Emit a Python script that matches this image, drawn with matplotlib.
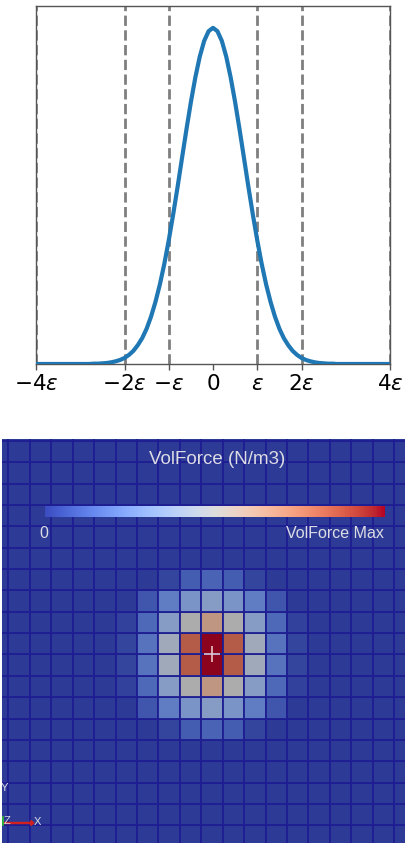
import numpy as np
import matplotlib
matplotlib.use("Agg")
import matplotlib.pyplot as plt
from matplotlib.colors import ListedColormap, Normalize
from matplotlib.cm import ScalarMappable

# ---------------- data: top panel (kernel profile, x in units of epsilon) ----------------
curve_x = [-4.0, -3.5, -3.0, -2.8, -2.7, -2.6, -2.5, -2.4, -2.3, -2.2, -2.1, -2.0,
           -1.9, -1.8, -1.7, -1.6, -1.5, -1.4, -1.3, -1.2, -1.1, -1.0,
           -0.9, -0.8, -0.7, -0.6, -0.5, -0.4, -0.3, -0.2, -0.1, 0.0,
           0.1, 0.2, 0.3, 0.4, 0.5, 0.6, 0.7, 0.8, 0.9, 1.0,
           1.1, 1.2, 1.3, 1.4, 1.5, 1.6, 1.7, 1.8, 1.9, 2.0,
           2.1, 2.2, 2.3, 2.4, 2.5, 2.6, 2.7, 2.8, 3.0, 3.5, 4.0]
curve_y = [0.0, 0.0, 0.0, 0.0, 0.001, 0.001, 0.002, 0.003, 0.005, 0.008, 0.012, 0.018,
           0.027, 0.039, 0.056, 0.077, 0.105, 0.141, 0.185, 0.237, 0.298, 0.368,
           0.445, 0.527, 0.613, 0.698, 0.779, 0.852, 0.914, 0.961, 0.990, 1.000,
           0.990, 0.961, 0.914, 0.852, 0.779, 0.698, 0.613, 0.527, 0.445, 0.368,
           0.298, 0.237, 0.185, 0.141, 0.105, 0.077, 0.056, 0.039, 0.027, 0.018,
           0.012, 0.008, 0.005, 0.003, 0.002, 0.001, 0.001, 0.0, 0.0, 0.0, 0.0]
guide_x = [-4, -2, -1, 0, 1, 2, 4]
tick_labels = [r"$-4\varepsilon$", r"$-2\varepsilon$", r"$-\varepsilon$", r"$0$",
               r"$\varepsilon$", r"$2\varepsilon$", r"$4\varepsilon$"]
dashed_x = [-4, -2, -1, 1, 2, 4]

# ---------------- data: bottom panel (VolForce on mesh cells, normalised) ----------------
cell_x_edges = np.arange(-10.5, 10.0, 1.0)   # mesh cell edges (cell units)
cell_y_edges = np.arange(-9.0, 11.5, 1.0)
block_cols = [-4, -3, -2, -1, 0, 1, 2, 3, 4]                  # cell centres x
block_rows = [3.5, 2.5, 1.5, 0.5, -0.5, -1.5, -2.5, -3.5]      # cell centres y
force_block = [
    [0.00, 0.00, 0.03, 0.10, 0.12, 0.10, 0.03, 0.00, 0.00],
    [0.00, 0.08, 0.20, 0.30, 0.34, 0.30, 0.20, 0.08, 0.00],
    [0.02, 0.14, 0.34, 0.50, 0.64, 0.50, 0.34, 0.14, 0.02],
    [0.03, 0.17, 0.44, 0.83, 1.00, 0.83, 0.44, 0.17, 0.03],
    [0.03, 0.17, 0.44, 0.83, 1.00, 0.83, 0.44, 0.17, 0.03],
    [0.02, 0.14, 0.34, 0.50, 0.64, 0.50, 0.34, 0.14, 0.02],
    [0.00, 0.08, 0.20, 0.30, 0.34, 0.30, 0.20, 0.08, 0.00],
    [0.00, 0.00, 0.03, 0.10, 0.12, 0.10, 0.03, 0.00, 0.00],
]

W, H = 405, 843
fig = plt.figure(figsize=(W / 100, H / 100), dpi=100)
fig.patch.set_facecolor("white")

def px(x0, y0, x1, y1):
    return [x0 / W, 1 - y1 / H, (x1 - x0) / W, (y1 - y0) / H]

# ---------------- top panel ----------------
ax = fig.add_axes(px(36, 6, 390, 364))
for xv in dashed_x:
    ax.axvline(xv, color="#7f7f7f", lw=2, ls="--", zorder=1)
ax.plot(curve_x, curve_y, color="#1f77b4", lw=3, zorder=3)
ax.axvline(0, ymax=0, color="none")
# dashed line at 0 only down to curve? reference shows none at 0
ax.set_xlim(-4, 4)
ax.set_ylim(0, 1.065)
ax.set_yticks([])
ax.set_xticks(guide_x)
ax.set_xticklabels(tick_labels, fontsize=15.5)
ax.tick_params(axis="x", length=4, width=1, color="#555555", pad=3)
for s in ax.spines.values():
    s.set_color("#555555")
    s.set_linewidth(1)

# ---------------- bottom panel ----------------
axb = fig.add_axes(px(2, 439, 405, 843))
grid = np.zeros((len(cell_y_edges) - 1, len(cell_x_edges) - 1))
xc = (cell_x_edges[:-1] + cell_x_edges[1:]) / 2
yc = (cell_y_edges[:-1] + cell_y_edges[1:]) / 2
for i, yv in enumerate(block_rows):
    for j, xv in enumerate(block_cols):
        r = int(np.argmin(np.abs(yc - yv)))
        c = int(np.argmin(np.abs(xc - xv)))
        grid[r, c] = force_block[i][j]

base = plt.get_cmap("coolwarm")(np.linspace(0, 1, 256))
shaded = base.copy()
shaded[:, :3] = shaded[:, :3] * 0.78
cell_cmap = ListedColormap(shaded)

axb.pcolormesh(cell_x_edges, cell_y_edges, grid, cmap=cell_cmap, vmin=0, vmax=1,
               edgecolors="#1e1e92", linewidth=1.3, antialiased=True)
axb.plot([0], [0], marker="+", ms=11, mew=1.2, color="#f3d6d6", alpha=0.9)
axb.set_xlim(-9.80, 9.01)
axb.set_ylim(-8.83, 10.09)
axb.set_xticks([])
axb.set_yticks([])
for s in axb.spines.values():
    s.set_visible(False)

# colour legend bar
cax = fig.add_axes(px(45, 506, 385, 517))
cb = fig.colorbar(ScalarMappable(norm=Normalize(0, 1), cmap="coolwarm"), cax=cax,
                  orientation="horizontal")
cb.outline.set_visible(False)
cb.set_ticks([])

txt = "#dcdce4"
fig.text(217 / W, 1 - 460 / H, "VolForce (N/m3)", color=txt, fontsize=13.5,
         family="Liberation Sans", ha="center", va="center")
fig.text(44 / W, 1 - 533 / H, "0", color=txt, fontsize=11.5,
         family="Liberation Sans", ha="center", va="center")
fig.text(384 / W, 1 - 533 / H, "VolForce Max", color=txt, fontsize=11.5,
         family="Liberation Sans", ha="right", va="center")

# orientation triad
fig.text(4 / W, 1 - 788 / H, "Y", color=txt, fontsize=8, family="Liberation Sans",
         ha="center", va="center")
fig.text(7 / W, 1 - 821 / H, "Z", color=txt, fontsize=8, family="Liberation Sans",
         ha="center", va="center")
fig.text(37 / W, 1 - 822 / H, "X", color=txt, fontsize=8, family="Liberation Sans",
         ha="center", va="center")
fig.add_artist(matplotlib.patches.FancyArrow(4 / W, 1 - 823 / H, 30 / W, 0,
               width=0.0012, head_width=0.006, head_length=0.008,
               length_includes_head=True, color="#d02020", transform=fig.transFigure))
fig.add_artist(matplotlib.lines.Line2D([2.5 / W, 2.5 / W], [1 - 825 / H, 1 - 817 / H],
               color="#30c030", lw=1.2, transform=fig.transFigure))

fig.savefig("out.png", dpi=100)
